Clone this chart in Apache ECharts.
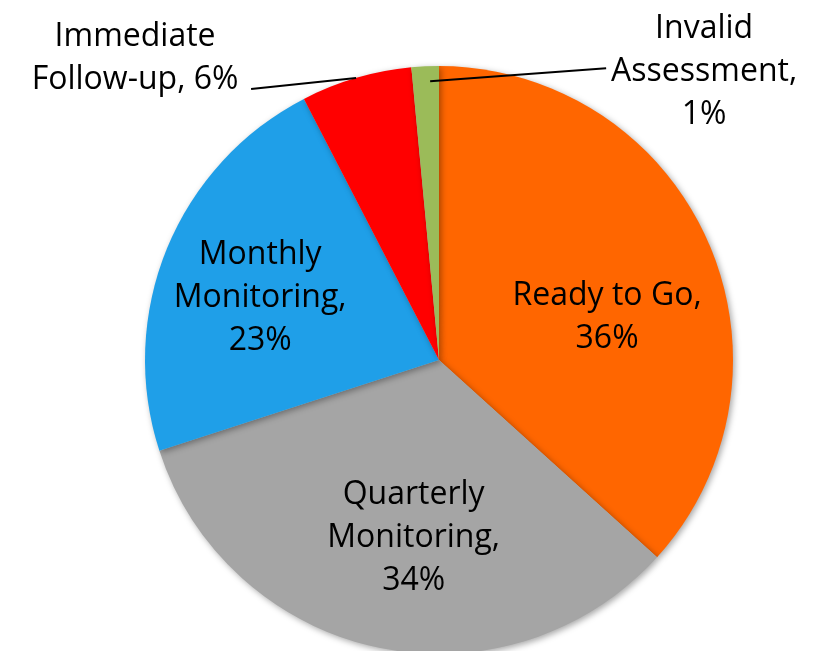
<!DOCTYPE html>
<html>
<head>
<meta charset="utf-8">
<script src="https://cdn.jsdelivr.net/npm/echarts@6/dist/echarts.min.js"></script>
<style>
  html, body { margin: 0; padding: 0; background: #fff; }
  #chart { width: 828px; height: 651px; }
</style>
</head>
<body>
<div id="chart"></div>
<script>
  // slices, clockwise from 12 o'clock
  var names = ['Ready to Go', 'Quarterly Monitoring', 'Monthly Monitoring', 'Immediate Follow-up', 'Invalid Assessment']
  var shares = [36.7, 33.3, 22.4, 6.1, 1.5]
  var shareLabels = ['36%', '34%', '23%', '6%', '1%']
  var colors = ['#FF6600', '#A5A5A5', '#1F9FE8', '#FF0000', '#9BBB59']

  // label lines as shown in the picture
  var labelLines = [
    ['Ready to Go,', '{p}'],
    ['Quarterly', 'Monitoring,', '{p}'],
    ['Monthly', 'Monitoring,', '{p}'],
    ['Immediate', 'Follow-up, {p}'],
    ['Invalid', 'Assessment,', '{p}']
  ]

  // nudges for the inside labels, outside ones handled in labelLayout
  var insideOffsets = [[31, 18], [6, 31], [-40, -5]]

  var FONT = 'Open Sans'
  var FONT_SIZE = 32
  var LABEL_W = 230
  var CENTER = [439, 360]
  var RADIUS = 294

  var chart = echarts.init(document.getElementById('chart'))

  var labelBase = {
    fontFamily: FONT,
    fontSize: FONT_SIZE,
    color: '#000',
    lineHeight: 43,
    formatter: function (p) {
      var lines = labelLines[p.dataIndex].map(function (s) {
        return '{t|' + s.replace('{p}', shareLabels[p.dataIndex]) + '}'
      })
      return lines.join('\n')
    },
    rich: {
      t: { fontFamily: FONT, fontSize: FONT_SIZE, lineHeight: 43, color: '#000', width: LABEL_W, align: 'center' }
    }
  }

  // the slices with their inside labels
  var sliceData = names.map(function (n, i) {
    return {
      name: n,
      value: shares[i],
      itemStyle: { color: colors[i] },
      label: i < 3 ? { show: true, position: 'inside', offset: insideOffsets[i] } : { show: false }
    }
  })

  // same values again, see-through, only to carry the callout labels above the slices
  var calloutData = names.map(function (n, i) {
    return {
      name: n,
      value: shares[i],
      label: { show: i >= 3, position: 'outside' },
      labelLine: { show: i >= 3, length: 2, length2: 100 }
    }
  })

  var option = {
    animation: false,
    series: [{
      type: 'pie',
      z: 2,
      center: CENTER,
      radius: RADIUS,
      startAngle: 90,
      clockwise: true,
      avoidLabelOverlap: false,
      itemStyle: {
        borderWidth: 0,
        shadowBlur: 6,
        shadowColor: 'rgba(0,0,0,0.35)',
        shadowOffsetX: 2,
        shadowOffsetY: 2
      },
      label: labelBase,
      labelLine: { show: false },
      data: sliceData
    }, {
      type: 'pie',
      z: 5,
      silent: true,
      center: CENTER,
      radius: RADIUS,
      startAngle: 90,
      clockwise: true,
      avoidLabelOverlap: false,
      itemStyle: { color: 'rgba(0,0,0,0)', borderWidth: 0 },
      label: labelBase,
      labelLine: {
        lineStyle: { color: '#000', width: 2 }
      },
      labelLayout: function (p) {
        if (p.dataIndex < 3 || !p.labelLinePoints) return {}
        var s = p.labelLinePoints[0]
        var start, end
        if (p.dataIndex === 3) {
          start = [s[0], s[1]]
          end = [start[0] - 105, start[1] + 11]
          return {
            x: end[0] - 1,
            y: end[1] - 31,
            align: 'right',
            verticalAlign: 'middle',
            labelLinePoints: [start, end, end]
          }
        }
        start = [s[0] + 5, s[1] + 15]
        end = [start[0] + 176, start[1] - 13]
        return {
          x: end[0] - 17,
          y: end[1] + 4,
          align: 'left',
          verticalAlign: 'middle',
          labelLinePoints: [start, end, end]
        }
      },
      data: calloutData
    }]
  }

  chart.setOption(option)
</script>
</body>
</html>
